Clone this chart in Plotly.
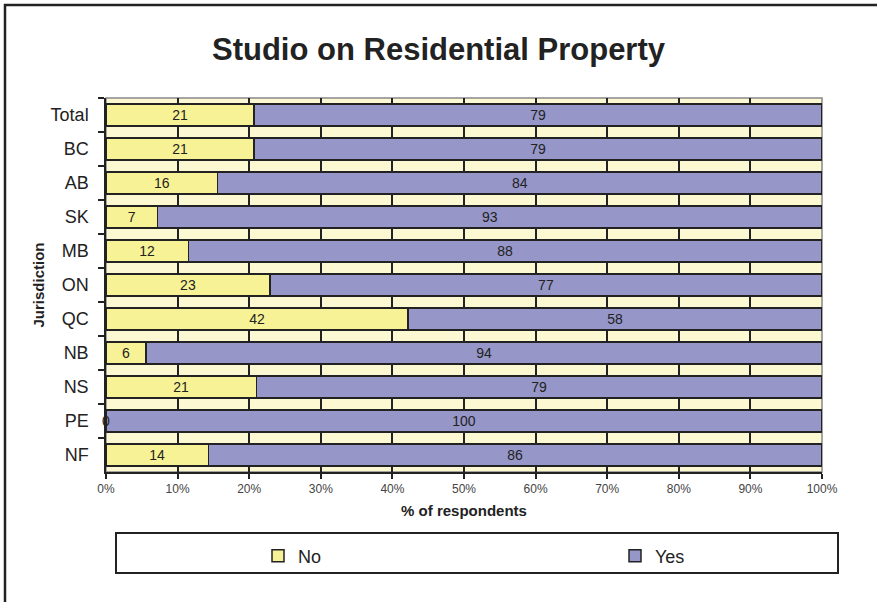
import plotly.graph_objects as go

# ---- data ----
jurisdictions = ["Total", "BC", "AB", "SK", "MB", "ON", "QC", "NB", "NS", "PE", "NF"]
no_values = [20.7, 20.7, 15.6, 7.2, 11.5, 22.9, 42.2, 5.6, 21.0, 0.0, 14.3]
yes_values = [79.3, 79.3, 84.4, 92.8, 88.5, 77.1, 57.8, 94.4, 79.0, 100.0, 85.7]
no_labels = ["21", "21", "16", "7", "12", "23", "42", "6", "21", "0", "14"]
yes_labels = ["79", "79", "84", "93", "88", "77", "58", "94", "79", "100", "86"]
x_ticks = [0, 10, 20, 30, 40, 50, 60, 70, 80, 90, 100]
x_tick_labels = ["0%", "10%", "20%", "30%", "40%", "50%", "60%", "70%", "80%", "90%", "100%"]

FONT = "Liberation Sans, Arial, sans-serif"
DARK = "#222222"
NO_COLOR = "#F8F296"
YES_COLOR = "#9696C8"
BG = "#FCF9D2"

fig = go.Figure()
fig.add_trace(go.Bar(
    y=jurisdictions, x=no_values, name="No", orientation="h",
    marker=dict(color=NO_COLOR, line=dict(color=DARK, width=1.5)),
    text=[t if v > 0 else "" for t, v in zip(no_labels, no_values)],
    textposition="inside", insidetextanchor="middle", textangle=0,
    textfont=dict(family=FONT, size=14, color=DARK),
    hoverinfo="x+y+name", legend="legend", showlegend=True,
))
fig.add_trace(go.Bar(
    y=jurisdictions, x=yes_values, name="Yes", orientation="h",
    marker=dict(color=YES_COLOR, line=dict(color=DARK, width=1.5)),
    text=yes_labels,
    textposition="inside", insidetextanchor="middle", textangle=0,
    textfont=dict(family=FONT, size=14, color=DARK),
    hoverinfo="x+y+name", legend="legend2", showlegend=True,
))

# zero-width segments: label sits at the axis
for j, v, t in zip(jurisdictions, no_values, no_labels):
    if v == 0:
        fig.add_annotation(x=0, y=j, text=t, showarrow=False,
                           xref="x", yref="y",
                           font=dict(family=FONT, size=14, color=DARK))

L, R, T, B = 106, 55, 98, 130
W, H = 877, 602
pw, ph = W - L - R, H - T - B


def px(x):
    return (x - L) / pw


def py(y):
    return (H - B - y) / ph


shapes = [
    # figure frame
    dict(type="rect", xref="paper", yref="paper", x0=px(5), x1=px(1000),
         y0=py(700), y1=py(5), line=dict(color=DARK, width=2.5), layer="above"),
    # plot-area frame (grey top/right)
    dict(type="rect", xref="paper", yref="paper", x0=0, x1=1, y0=0, y1=1,
         line=dict(color="#888888", width=1.5), layer="below"),
    # legend box
    dict(type="rect", xref="paper", yref="paper", x0=px(116), x1=px(838),
         y0=py(573), y1=py(533), line=dict(color=DARK, width=2), layer="above"),
]

legend_common = dict(orientation="h", xanchor="left", yanchor="middle",
                     y=py(556), bgcolor="rgba(0,0,0,0)", borderwidth=0,
                     font=dict(family=FONT, size=18, color=DARK))

fig.update_layout(
    width=W, height=H,
    showlegend=True,
    margin=dict(l=L, r=R, t=T, b=B, autoexpand=False),
    paper_bgcolor="white", plot_bgcolor=BG,
    barmode="stack", bargap=0.34,
    font=dict(family=FONT, color=DARK),
    title=dict(text="<b>Studio on Residential Property</b>", x=0.5, xref="container",
               xanchor="center", y=1 - 49 / H, yref="container", yanchor="middle",
               font=dict(family=FONT, size=31, color=DARK)),
    xaxis=dict(range=[0, 100], tickvals=x_ticks, ticktext=x_tick_labels,
               ticks="outside", ticklen=5, tickwidth=1.5, tickcolor=DARK,
               showline=True, linecolor=DARK, linewidth=1.5, automargin=False,
               showgrid=True, gridcolor=DARK, gridwidth=1.5, zeroline=False,
               tickfont=dict(family=FONT, size=12, color="#444444"),
               title=dict(text="<b>% of respondents</b>", standoff=10,
                          font=dict(family=FONT, size=15, color=DARK))),
    yaxis=dict(categoryorder="array", categoryarray=jurisdictions,
               autorange="reversed", tickson="boundaries",
               ticks="outside", ticklen=6, tickwidth=1.5, tickcolor=DARK,
               ticklabelstandoff=12, automargin=False,
               showline=True, linecolor=DARK, linewidth=1.5, showgrid=False,
               zeroline=False,
               tickfont=dict(family=FONT, size=18, color=DARK),
               title=dict(text="<b>Jurisdiction</b>", standoff=2,
                          font=dict(family=FONT, size=15, color=DARK))),
    legend=dict(x=px(258), **legend_common),
    legend2=dict(x=px(615), **legend_common),
    shapes=shapes,
)

fig.write_html("out.html", config={"displayModeBar": False},
               post_script="document.body.style.margin='0';")
